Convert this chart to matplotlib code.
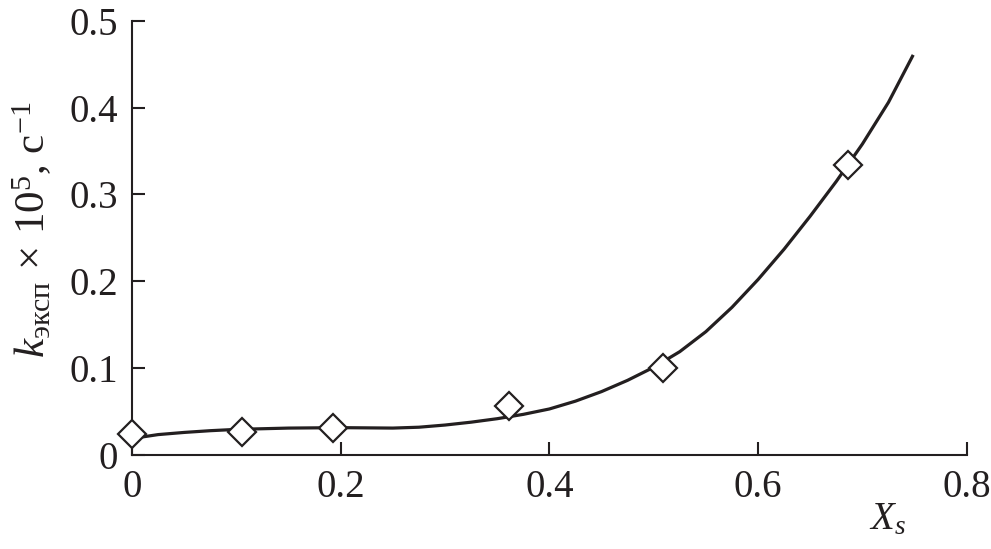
import matplotlib
matplotlib.use("Agg")
import matplotlib.pyplot as plt

# =========================
# DATA
# =========================
xs_points = [0.0, 0.105, 0.193, 0.361, 0.509, 0.686]
k_points = [0.024, 0.026, 0.031, 0.056, 0.100, 0.334]

# fitted curve, read point by point
xs_curve = [0.0, 0.025, 0.05, 0.075, 0.1, 0.15, 0.2, 0.25, 0.275, 0.3,
            0.325, 0.35, 0.375, 0.4, 0.425, 0.45, 0.475, 0.5, 0.525, 0.55,
            0.575, 0.6, 0.625, 0.65, 0.675, 0.7, 0.725, 0.748]
k_curve = [0.019, 0.0235, 0.026, 0.028, 0.0295, 0.031, 0.0315, 0.031, 0.032, 0.0345,
           0.0378, 0.0418, 0.0468, 0.053, 0.062, 0.073, 0.086, 0.101, 0.119, 0.142,
           0.170, 0.202, 0.237, 0.275, 0.315, 0.358, 0.406, 0.459]

x_ticks = [0, 0.2, 0.4, 0.6, 0.8]
x_tick_labels = ["0", "0.2", "0.4", "0.6", "0.8"]
y_ticks = [0, 0.1, 0.2, 0.3, 0.4, 0.5]
y_tick_labels = ["0", "0.1", "0.2", "0.3", "0.4", "0.5"]

# =========================
# STYLE
# =========================
plt.rcParams["font.family"] = ["Liberation Serif", "DejaVu Serif"]
plt.rcParams["mathtext.fontset"] = "custom"
plt.rcParams["mathtext.rm"] = "Liberation Serif"
plt.rcParams["mathtext.it"] = "Liberation Serif:italic"
plt.rcParams["mathtext.bf"] = "Liberation Serif:bold"

ink = "#231f20"

fig = plt.figure(figsize=(9.91, 5.49), dpi=100)
ax = fig.add_axes([0.1332, 0.1712, 0.8423, 0.7911])

ax.plot(xs_curve, k_curve, color=ink, lw=2.3, zorder=2, solid_joinstyle="round")
ax.plot(xs_points, k_points, linestyle="none", marker="D", markersize=14,
        markerfacecolor="white", markeredgecolor=ink, markeredgewidth=1.6,
        zorder=3, clip_on=False)

ax.set_xlim(0, 0.8)
ax.set_ylim(0, 0.5)
ax.set_xticks(x_ticks)
ax.set_xticklabels(x_tick_labels)
ax.set_yticks(y_ticks)
ax.set_yticklabels(y_tick_labels)

for side in ["top", "right"]:
    ax.spines[side].set_visible(False)
for side in ["left", "bottom"]:
    ax.spines[side].set_linewidth(1.5)
    ax.spines[side].set_color(ink)

ax.tick_params(direction="in", length=9.5, width=1.5, color=ink,
               labelsize=28, labelcolor=ink, pad=10)

# axis labels
fig.text(32 / 991, 1 - 230 / 549,
         r"$k_{\mathrm{эксп}}\,\times\,10^{5}$, с$^{-1}$",
         rotation=90, ha="center", va="center", fontsize=31, color=ink)
fig.text(887 / 991, 1 - 520 / 549, r"$X_s$", ha="center", va="center",
         fontsize=28, color=ink)

fig.savefig("out.png", dpi=100)
